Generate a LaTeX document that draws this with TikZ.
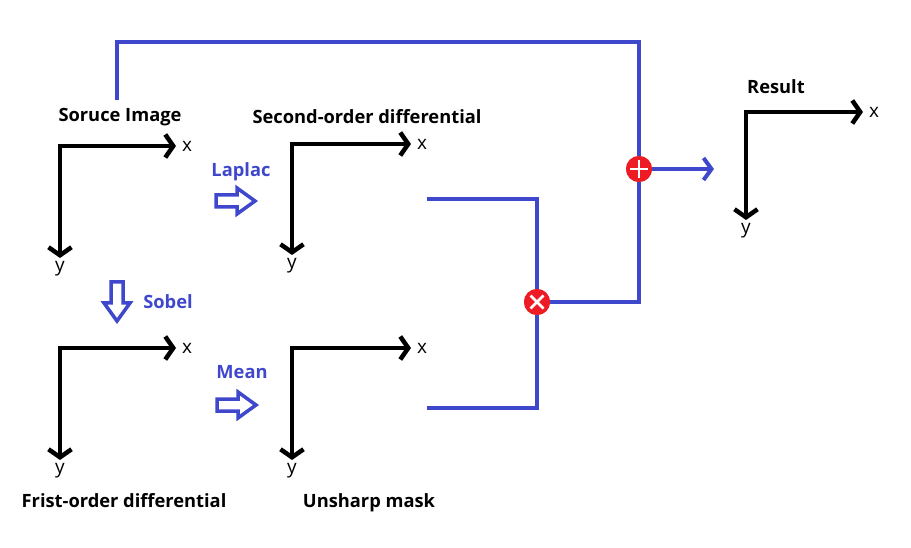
\documentclass[tikz,border=0pt]{standalone}
\usepackage{fontspec}
\setmainfont{Open Sans}
\usetikzlibrary{arrows.meta,calc,positioning}
\definecolor{pblue}{RGB}{63,72,204}
\definecolor{pred}{RGB}{237,28,36}
\tikzset{
  axisline/.style={line width=4.5pt, black, -{Straight Barb[length=8pt,width=23pt,line width=4.5pt]}},
  wire/.style={line width=4pt, pblue},
  lbl/.style={font=\fontsize{18.3}{22}\selectfont\bfseries, inner sep=0pt},
  axlbl/.style={font=\fontsize{19}{22}\selectfont, inner sep=0pt},
  oplbl/.style={font=\fontsize{18.3}{22}\selectfont\bfseries, text=pblue, inner sep=0pt},
  blockarrow/.style={line width=3.5pt, pblue, line join=miter},
  hollow/.pic={\draw[blockarrow] (-20,-6) -- (1,-6) -- (1,-13) -- (19,0) -- (1,13) -- (1,6) -- (-20,6) -- cycle;},
  opnode/.style={circle, fill=pred, minimum size=26pt, inner sep=0pt},
}
\begin{document}
\begin{tikzpicture}[x=1pt,y=-1pt]
\useasboundingbox (0,0) rectangle (911,548);
% titles
\node[lbl] (tsrc) at (120,117) {Soruce Image};
\node[lbl] (tsec) at (367,117) {Second-order differential};
\node[lbl] (tfir) at (124,501) {Frist-order differential};
\node[lbl] (tuns) at (369,503) {Unsharp mask};
\node[lbl] (tres) at (776,87) {Result};
% operation labels
\node[oplbl] (lap) at (241,172) {Laplac};
\node[oplbl] (sob) at (168,302) {Sobel};
\node[oplbl] (mea) at (242,372) {Mean};
\pic at (236,201) {hollow};
\pic at (237,405) {hollow};
\pic[rotate=-90] at (117,302) {hollow};
% axes
\foreach \n/\ox/\oy/\xl/\yl in {a/60/146/116/112, b/292/144/119/111, c/60/348/116/112, d/292/348/119/112, e/746/112/117/108}{
  \coordinate (\n o) at (\ox,\oy);
  \coordinate (\n x) at ($(\n o)+(\xl,0)$);
  \coordinate (\n y) at ($(\n o)+(0,\yl)$);
  \draw[axisline] (\n o) -- (\n x);
  \draw[axisline] ([yshift=2.25pt]\n o) -- (\n y);
  \node[axlbl, right=6pt of \n x] (\n xl) {x};
  \node[axlbl, below=3pt of \n y] (\n yl) {y};
}
% operator circles
\node[opnode] (plus) at (639,169) {};
\node[opnode] (times) at (537,302) {};
% wires
\coordinate (srctop) at (117,100);
\coordinate (secend) at (427,199);
\coordinate (unsend) at (427,408);
\coordinate (outend) at (714,169);
\draw[wire, line join=miter] (srctop) -- (117,42) -- (639,42) -- (plus.north);
\draw[wire, line join=miter] (plus.south) -- (639,302) -- (times.east);
\draw[wire, line join=miter] (secend) -- (537,199) -- (times.north);
\draw[wire, line join=miter] (unsend) -- (537,408) -- (times.south);
\draw[wire, -{Straight Barb[length=8pt,width=22pt,line width=4pt]}] (plus.east) -- (outend);
% redraw circles on top with symbols
\node[opnode] at (plus) {};
\node[opnode] at (times) {};
\draw[white, line width=2.5pt] ([xshift=-9pt]plus.center) -- ([xshift=9pt]plus.center);
\draw[white, line width=2.5pt] ([yshift=-9pt]plus.center) -- ([yshift=9pt]plus.center);
\draw[white, line width=2.5pt] ([shift={(-6.5,-6.5)}]times.center) -- ([shift={(6.5,6.5)}]times.center);
\draw[white, line width=2.5pt] ([shift={(-6.5,6.5)}]times.center) -- ([shift={(6.5,-6.5)}]times.center);
\end{tikzpicture}
\end{document}
